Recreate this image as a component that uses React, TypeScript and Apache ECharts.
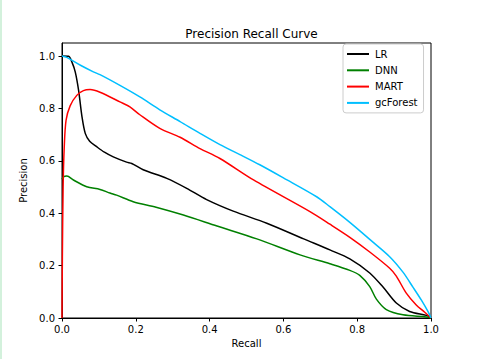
import React, { useEffect, useRef } from "react";
import * as echarts from "echarts";

const titleText = "Precision Recall Curve";
const xName = "Recall";
const yName = "Precision";
const seriesNames = ["LR", "DNN", "MART", "gcForest"];
const seriesColors = ["#000000", "#008000", "#ff0000", "#00bfff"];

const xTicks = [0, 0.2, 0.4, 0.6, 0.8, 1.0];

const lrData: [number, number][] = [
  [0, 1.0], [0.018, 0.999], [0.027, 0.977], [0.036, 0.939], [0.045, 0.869],
  [0.054, 0.77], [0.063, 0.705], [0.075, 0.675], [0.094, 0.654], [0.115, 0.633],
  [0.139, 0.615], [0.175, 0.595], [0.189, 0.59], [0.22, 0.566], [0.284, 0.533],
  [0.338, 0.495], [0.392, 0.452], [0.464, 0.408], [0.555, 0.362], [0.655, 0.302],
  [0.726, 0.26], [0.78, 0.226], [0.834, 0.172], [0.87, 0.118], [0.906, 0.057],
  [0.942, 0.025], [0.987, 0.01], [1.0, 0.003],
];

const dnnData: [number, number][] = [
  [0, 0.53], [0.004, 0.539], [0.013, 0.542], [0.031, 0.527], [0.067, 0.501],
  [0.103, 0.491], [0.13, 0.477], [0.148, 0.469], [0.193, 0.444], [0.255, 0.423],
  [0.329, 0.393], [0.42, 0.351], [0.528, 0.302], [0.645, 0.241], [0.726, 0.207],
  [0.78, 0.182], [0.807, 0.163], [0.834, 0.12], [0.852, 0.072], [0.879, 0.032],
  [0.924, 0.012], [0.987, 0.004], [1.0, 0.0],
];

const martData: [number, number][] = [
  [0, 0.0], [0.001, 0.23], [0.003, 0.5], [0.006, 0.65], [0.011, 0.755],
  [0.022, 0.81], [0.04, 0.85], [0.058, 0.868], [0.076, 0.872], [0.103, 0.862],
  [0.157, 0.825], [0.184, 0.806], [0.211, 0.776], [0.265, 0.724], [0.32, 0.69],
  [0.374, 0.647], [0.428, 0.609], [0.519, 0.527], [0.672, 0.406], [0.726, 0.358],
  [0.78, 0.308], [0.834, 0.252], [0.888, 0.19], [0.906, 0.16], [0.933, 0.095],
  [0.96, 0.05], [0.983, 0.022], [1.0, 0.0],
];

const gcForestData: [number, number][] = [
  [0, 1.0], [0.013, 0.995], [0.05, 0.965], [0.085, 0.94], [0.103, 0.929],
  [0.157, 0.888], [0.211, 0.844], [0.265, 0.795], [0.32, 0.75], [0.374, 0.705],
  [0.428, 0.662], [0.482, 0.624], [0.536, 0.585], [0.6, 0.535], [0.69, 0.463],
  [0.726, 0.425], [0.78, 0.365], [0.834, 0.3], [0.888, 0.234], [0.924, 0.175],
  [0.951, 0.118], [0.974, 0.068], [0.992, 0.024], [1.0, 0.0],
];

const allData = [lrData, dnnData, martData, gcForestData];

const FONT = "DejaVu Sans";

export default function App() {
  const ref = useRef<HTMLDivElement>(null);
  useEffect(() => {
    if (!ref.current) return;
    const chart = echarts.init(ref.current, undefined, { renderer: "svg" });
    chart.setOption({
      animation: false,
      backgroundColor: "#ffffff",
      textStyle: { fontFamily: FONT },
      title: {
        text: titleText,
        left: 246.5,
        top: 23,
        textAlign: "center",
        textStyle: { fontFamily: FONT, fontSize: 12, fontWeight: "normal", color: "#000" },
      },
      legend: {
        orient: "vertical",
        left: 343,
        top: 44,
        padding: [4, 6, 4, 4],
        itemGap: 4.3,
        itemWidth: 22,
        itemHeight: 2,
        icon: "rect",
        borderColor: "#cccccc",
        borderWidth: 1,
        borderRadius: 3,
        backgroundColor: "rgba(255,255,255,0.8)",
        textStyle: { fontFamily: FONT, fontSize: 10, color: "#000", lineHeight: 12, padding: [0, 0, 0, 1] },
        data: seriesNames,
      },
      grid: {
        left: 62,
        right: 48,
        top: 43,
        bottom: 41,
        show: true,
        borderColor: "#000",
        borderWidth: 1,
        backgroundColor: "transparent",
      },
      xAxis: {
        type: "value",
        min: 0,
        max: 1,
        interval: 0.2,
        name: xName,
        nameLocation: "middle",
        nameGap: 20,
        nameTextStyle: { fontFamily: FONT, fontSize: 10, color: "#000" },
        axisLine: { show: true, lineStyle: { color: "#000", width: 1 } },
        axisTick: { show: true, length: 3.5, lineStyle: { color: "#000" } },
        axisLabel: {
          fontFamily: FONT,
          fontSize: 10,
          color: "#000",
          margin: 6,
          formatter: (v: number) => (xTicks.some((t) => Math.abs(t - v) < 1e-9) ? v.toFixed(1) : ""),
        },
        splitLine: { show: false },
      },
      yAxis: {
        type: "value",
        min: 0,
        max: 1.05,
        interval: 0.2,
        name: yName,
        nameLocation: "middle",
        nameGap: 26,
        nameTextStyle: { fontFamily: FONT, fontSize: 10, color: "#000" },
        axisLine: { show: true, lineStyle: { color: "#000", width: 1 } },
        axisTick: { show: true, length: 3.5, lineStyle: { color: "#000" } },
        axisLabel: {
          fontFamily: FONT,
          fontSize: 10,
          color: "#000",
          margin: 7,
          showMaxLabel: false,
          formatter: (v: number) => (Math.abs(v * 5 - Math.round(v * 5)) < 1e-9 ? v.toFixed(1) : ""),
        },
        splitLine: { show: false },
      },
      series: seriesNames.map((name, i) => ({
        name,
        type: "line",
        data: allData[i],
        showSymbol: false,
        symbol: "none",
        smooth: 0.3,
        clip: true,
        lineStyle: { color: seriesColors[i], width: 1.5 },
        itemStyle: { color: seriesColors[i] },
      })),
    });
    return () => chart.dispose();
  }, []);
  return (
    <div style={{ position: "fixed", left: 0, top: 0, width: 479, height: 359, background: "#fff" }}>
      <div ref={ref} style={{ position: "absolute", left: 0, top: 0, width: 479, height: 359 }} />
      <div style={{ position: "absolute", left: 0, top: 0, width: 2, height: 359, background: "#d3f1dc", zIndex: 5 }} />
    </div>
  );
}
